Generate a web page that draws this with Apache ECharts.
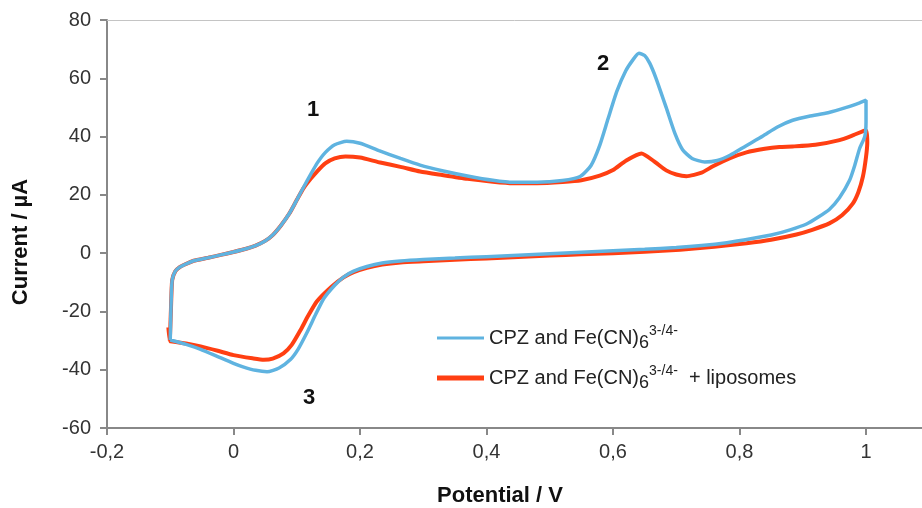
<!DOCTYPE html>
<html>
<head>
<meta charset="utf-8">
<script src="https://cdn.jsdelivr.net/npm/echarts@6/dist/echarts.min.js"></script>
<style>
  html, body { margin: 0; padding: 0; background: #fff; }
  #cv_chart { width: 922px; height: 508px; }
</style>
</head>
<body>
<div id="cv_chart"></div>
<script>
// CV data: potential (V) and current (µA), one closed loop per series
const cpzPotential = [
  -0.1, -0.099, -0.097, -0.092, -0.085, -0.078, -0.063, -0.04, -0.02, 0, 0.02, 0.035, 0.05, 0.062, 0.075, 0.088, 0.1, 0.111,
  0.122, 0.132, 0.145, 0.16, 0.179, 0.2, 0.23, 0.264, 0.295, 0.33, 0.37, 0.41, 0.442, 0.48, 0.52, 0.548, 0.565, 0.579,
  0.592, 0.606, 0.62, 0.632, 0.641, 0.65, 0.658, 0.668, 0.684, 0.698, 0.71, 0.725, 0.745, 0.765, 0.785, 0.81, 0.837, 0.86,
  0.884, 0.91, 0.94, 0.969, 0.99, 1.0,
  1.0, 0.998, 0.99, 0.982, 0.974, 0.958, 0.942, 0.924, 0.906, 0.88, 0.85, 0.82, 0.78, 0.74, 0.7, 0.65, 0.6, 0.55, 0.5,
  0.45, 0.4, 0.35, 0.3, 0.264, 0.235, 0.211, 0.19, 0.174, 0.16, 0.143, 0.13, 0.116, 0.102, 0.09, 0.072, 0.053, 0.035,
  0.015, 0, -0.025, -0.052, -0.075, -0.1
]
const cpzCurrent = [
  -29.8, -20, -9.3, -6.2, -4.8, -4.0, -2.6, -1.6, -0.6, 0.4, 1.5, 2.6, 4.2, 6.2, 9.5, 13.5, 18.2, 22.7,
  27, 30.8, 34.5, 37.2, 38.4, 37.7, 35.2, 32.5, 30.2, 28.3, 26.5, 25, 24.3, 24.3, 24.9, 26.3, 30, 37,
  46, 55.5, 62.5, 66.5, 68.6, 67.8, 65.2, 60, 50, 41, 35.5, 32.5, 31.3, 31.8, 33.6, 36.8, 40.2, 43.3,
  45.6, 47, 48.2, 50, 51.6, 52.5,
  45, 40, 36, 30, 25, 19, 15, 12.3, 10, 8, 6.2, 5, 3.6, 2.6, 1.9, 1.3, 0.8, 0.3, -0.2,
  -0.7, -1.2, -1.7, -2.2, -2.7, -3.4, -4.6, -6.2, -8.2, -11, -15.5, -21, -27.3, -33, -36.5, -39.4, -40.7, -40.2,
  -39, -37.8, -35.5, -33, -31.3, -29.8
]
const lipoPotential = [
  -0.103, -0.101, -0.099, -0.097, -0.092, -0.085, -0.078, -0.063, -0.04, -0.02, 0, 0.02, 0.035, 0.05, 0.062, 0.075, 0.088,
  0.1, 0.111, 0.122, 0.132, 0.145, 0.16, 0.177, 0.2, 0.23, 0.264, 0.295, 0.33, 0.37, 0.41, 0.442, 0.48, 0.52, 0.55,
  0.579, 0.6, 0.621, 0.645, 0.665, 0.684, 0.7, 0.716, 0.74, 0.758, 0.785, 0.811, 0.84, 0.863, 0.884, 0.92, 0.958, 0.98, 1.0,
  1.002, 1.0, 0.995, 0.988, 0.979, 0.962, 0.942, 0.915, 0.89, 0.85, 0.811, 0.76, 0.706, 0.65, 0.6, 0.55, 0.5, 0.45,
  0.4, 0.35, 0.3, 0.264, 0.235, 0.211, 0.19, 0.174, 0.155, 0.132, 0.118, 0.106, 0.092, 0.079, 0.062, 0.048, 0.03, 0,
  -0.025, -0.052, -0.075, -0.1
]
const lipoCurrent = [
  -25.5, -30.2, -20, -9.3, -6.2, -4.8, -4.0, -2.6, -1.6, -0.6, 0.4, 1.5, 2.6, 4.2, 6.2, 9.5, 13.5,
  18.2, 22.4, 25.5, 28, 30.8, 32.5, 33.2, 32.8, 31.2, 29.6, 28, 26.8, 25.5, 24.5, 24, 24, 24.4, 25,
  26.6, 28.5, 31.8, 34.2, 31.5, 28.4, 27, 26.4, 27.6, 29.8, 32.6, 34.6, 35.8, 36.4, 36.6, 37.2, 38.8, 40.5, 42.2,
  38, 33, 26.2, 21, 17, 13, 10.2, 8, 6.4, 4.6, 3.4, 2.2, 1.2, 0.5, 0, -0.4, -0.8, -1.3,
  -1.8, -2.3, -2.8, -3.2, -3.9, -5, -6.5, -8.3, -11.5, -16.5, -21.5, -26.4, -31.5, -34.4, -36.2, -36.6, -36.1, -35,
  -33.5, -32, -31, -30.2
]
const seriesNames = ['CPZ and Fe(CN)6 3-/4-', 'CPZ and Fe(CN)6 3-/4- + liposomes']
const peakLabels = ['1', '2', '3']

const chartInstance = echarts.init(document.getElementById('cv_chart'))
const font = 'Liberation Sans, Arial, sans-serif'

const toPairs = (xs, ys) => xs.map((x, i) => [x, ys[i]])

// the original plot box is cropped on the right: 1 sits at x=866, the frame runs on past the edge
const xMin = -0.2
const xMax = 1.0885

const titleText = (text, x, y, rotation) => ({
  type: 'text', x, y, rotation: rotation || 0,
  style: { text, font: 'bold 22px ' + font, fill: '#111', align: 'center', verticalAlign: 'middle' }
})

const option = {
  backgroundColor: '#fff',
  animation: false,
  grid: { left: 107, top: 20, bottom: 80, right: 0 },
  xAxis: [
    {
      type: 'value',
      min: xMin,
      max: xMax,
      interval: 0.2,
      splitLine: { show: false },
      axisLine: { onZero: false, lineStyle: { color: '#888', width: 2 } },
      axisTick: { show: true, length: 7, lineStyle: { color: '#888', width: 2 } },
      axisLabel: {
        color: '#333',
        fontFamily: font,
        fontSize: 20,
        margin: 14,
        showMaxLabel: false,
        formatter: v => String(Math.round(v * 10) / 10).replace('.', ',')
      }
    },
    {
      // top edge of the plot frame
      type: 'value',
      position: 'top',
      min: xMin,
      max: xMax,
      splitLine: { show: false },
      axisLine: { onZero: false, lineStyle: { color: '#c4c4c4', width: 1 } },
      axisTick: { show: false },
      axisLabel: { show: false }
    }
  ],
  yAxis: {
    type: 'value',
    min: -60,
    max: 80,
    interval: 20,
    splitLine: { show: false },
    axisLine: { show: true, onZero: false, lineStyle: { color: '#888', width: 2 } },
    axisTick: { show: true, length: 7, lineStyle: { color: '#888', width: 2 } },
    axisLabel: { color: '#333', fontFamily: font, fontSize: 20, margin: 16 }
  },
  legend: {
    orient: 'vertical',
    left: 437,
    top: 324,
    padding: 0,
    itemWidth: 47,
    itemHeight: 11,
    itemGap: 12,
    data: [
      { name: seriesNames[0], icon: 'path://M0,0 M0,4 H47 V7 H0 Z M0,11', itemStyle: { color: '#5fb3e0' } },
      { name: seriesNames[1], icon: 'path://M0,0 M0,3 H47 V8 H0 Z M0,11', itemStyle: { color: '#ff3f12' } }
    ],
    formatter: name => {
      const tail = name === seriesNames[1] ? '{t|  + liposomes}' : ''
      return '{t|CPZ and Fe(CN)}{sub|6}{sup|3-/4-}' + tail
    },
    textStyle: {
      rich: {
        t: { fontFamily: font, fontSize: 20, color: '#222', lineHeight: 28, verticalAlign: 'middle' },
        sub: { fontFamily: font, fontSize: 18, color: '#222', lineHeight: 14, verticalAlign: 'bottom' },
        sup: { fontFamily: font, fontSize: 14, color: '#222', lineHeight: 14, verticalAlign: 'top' }
      }
    }
  },
  graphic: [
    titleText('Current / µA', 21, 242, Math.PI / 2),
    titleText('Potential / V', 500, 496),
    titleText(peakLabels[0], 313, 110),
    titleText(peakLabels[1], 603, 64),
    titleText(peakLabels[2], 309, 398)
  ],
  series: [
    {
      name: seriesNames[0],
      type: 'line',
      data: toPairs(cpzPotential, cpzCurrent),
      showSymbol: false,
      symbol: 'none',
      smooth: 0.2,
      z: 3,
      lineStyle: { color: '#5fb3e0', width: 3.5 },
      itemStyle: { color: '#5fb3e0' }
    },
    {
      name: seriesNames[1],
      type: 'line',
      data: toPairs(lipoPotential, lipoCurrent),
      showSymbol: false,
      symbol: 'none',
      smooth: 0.2,
      z: 2,
      lineStyle: { color: '#ff3f12', width: 4 },
      itemStyle: { color: '#ff3f12' }
    }
  ]
}
chartInstance.setOption(option)
</script>
</body>
</html>
